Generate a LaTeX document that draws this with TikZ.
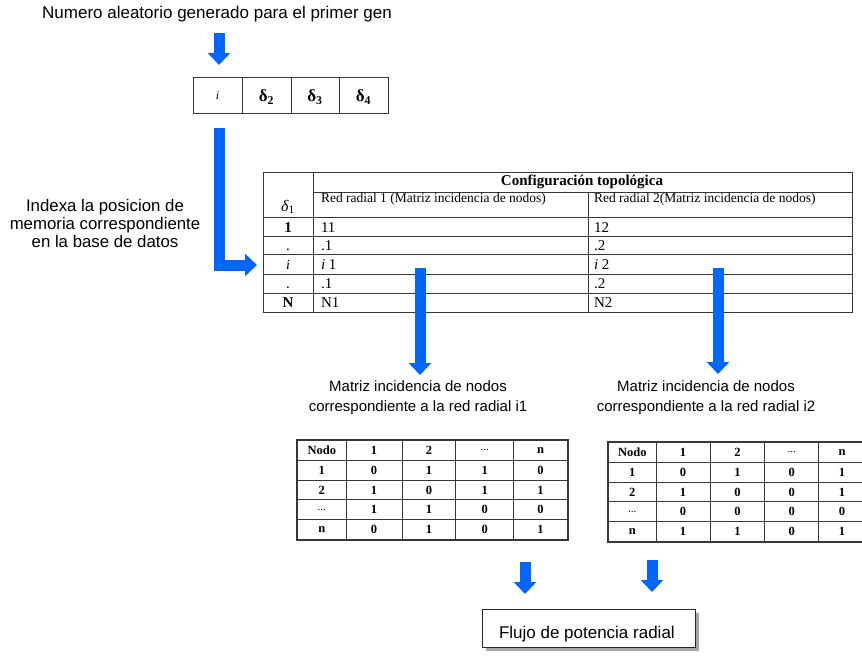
\documentclass[tikz,border=0pt]{standalone}
\usepackage{fontspec}
\setmainfont{Liberation Serif}
\newfontfamily\sansf{Liberation Sans}
\usetikzlibrary{arrows.meta,matrix}
\definecolor{arrowblue}{RGB}{0,102,255}
\definecolor{rulegray}{RGB}{55,55,55}

\begin{document}
\begin{tikzpicture}[x=1pt,y=-1pt,
  every node/.style={inner sep=0pt, outer sep=0pt},
  caption/.style={font=\sansf\fontsize{17}{20}\selectfont, align=center},
  sublabel/.style={font=\sansf\fontsize{15}{20}\selectfont, align=center},
  sidelabel/.style={font=\sansf\fontsize{16.8}{18}\selectfont, align=center},
  blockarrow/.style={draw=arrowblue, line width=11pt, line join=miter,
    -{Triangle[width=22pt,length=12pt]}},
  gridline/.style={draw=rulegray, line width=0.8pt},
  headcell/.style={font=\fontsize{13.5}{15}\selectfont, anchor=west},
  datacell/.style={font=\fontsize{15}{16}\selectfont, anchor=base west},
  keycell/.style={font=\fontsize{15}{16}\selectfont, anchor=base},
  genecell/.style={font=\bfseries\fontsize{17}{18}\selectfont},
  smalltab/.style={matrix of nodes, inner sep=0pt, column sep=-0.8pt, row sep=-0.8pt,
    nodes={draw=rulegray, line width=0.8pt, font=\bfseries\fontsize{12.5}{12.5}\selectfont,
      minimum height=19.8pt, anchor=center}},
]
\useasboundingbox (0,0) rectangle (862,659);

% ---- chromosome and its random index ----
\node[caption] (title) at (217,14) {Numero aleatorio generado para el primer gen};

\draw[gridline] (193,77) rectangle (388,113);
\foreach \x in {242,291,339} \draw[gridline] (\x,77) -- (\x,113);
\node[font=\itshape\fontsize{12}{12}\selectfont, anchor=base] (g1) at (217.5,99) {i};
\node[genecell] (g2) at (266.5,97) {δ\textsubscript{2}};
\node[genecell] (g3) at (315,97) {δ\textsubscript{3}};
\node[genecell] (g4) at (363.5,97) {δ\textsubscript{4}};

\coordinate (a0s) at (219,33);
\coordinate (a0e) at (219,65);
\draw[blockarrow] (a0s) -- (a0e);

% ---- lookup into the topology database ----
\node[sidelabel] (index) at (105,223) {Indexa la posicion de\\memoria correspondiente\\en la base de datos};

\coordinate (ls) at (219,128);
\coordinate (le) at (257,265);
\draw[blockarrow] (ls) |- (le);

\draw[gridline] (263,172) rectangle (852,312);
\draw[gridline] (313,172) -- (313,312);
\draw[gridline] (588,192) -- (588,312);
\draw[gridline] (313,192) -- (852,192);
\foreach \y in {217,236,254,274,293} \draw[gridline] (263,\y) -- (852,\y);

\node[font=\bfseries\fontsize{15}{16}\selectfont] (topo) at (582,182) {Configuración topológica};
\node[font=\fontsize{16}{16}\selectfont] (k0) at (288,207) {{\itshape δ}\textsubscript{1}};
\node[headcell] (h1) at (321,199) {Red radial 1 (Matriz incidencia de nodos)};
\node[headcell] (h2) at (594,199) {Red radial 2(Matriz incidencia de nodos)};

\node[keycell,font=\bfseries\fontsize{15}{16}\selectfont] (k1) at (288,232) {1};
\node[keycell] (k2) at (288,250) {.};
\node[keycell,font=\itshape\fontsize{14}{16}\selectfont] (k3) at (288,269) {i};
\node[keycell] (k4) at (288,288) {.};
\node[keycell,font=\bfseries\fontsize{15}{16}\selectfont] (k5) at (288,307.5) {N};

\node[datacell] (c11) at (321,232) {11};
\node[datacell] (c12) at (321,250) {.1};
\node[datacell] (c13) at (321,269) {\textit{i} 1};
\node[datacell] (c14) at (321,288) {.1};
\node[datacell] (c15) at (321,307.5) {N1};
\node[datacell] (c21) at (594,232) {12};
\node[datacell] (c22) at (594,250) {.2};
\node[datacell] (c23) at (594,269) {\textit{i} 2};
\node[datacell] (c24) at (594,288) {.2};
\node[datacell] (c25) at (594,307.5) {N2};

% ---- node incidence matrices of the two radial networks ----
\coordinate (a1s) at (420,268);
\coordinate (a1e) at (420,375);
\coordinate (a2s) at (718,268);
\coordinate (a2e) at (718,374);
\draw[blockarrow] (a1s) -- (a1e);
\draw[blockarrow] (a2s) -- (a2e);

\node[sublabel] (lab1) at (418,398) {Matriz incidencia de nodos\\correspondiente a la red radial i1};
\node[sublabel] (lab2) at (706,398) {Matriz incidencia de nodos\\correspondiente a la red radial i2};

\matrix[smalltab, anchor=north west,
  column 1/.style={nodes={minimum width=48.8pt}},
  column 2/.style={nodes={minimum width=55.8pt}},
  column 3/.style={nodes={minimum width=53.8pt}},
  column 4/.style={nodes={minimum width=57.8pt}},
  column 5/.style={nodes={minimum width=53.8pt}}] (ma) at (297,440) {
  Nodo & 1 & 2 & |[font=\fontsize{11}{11}\selectfont]| ... & n \\
  1 & 0 & 1 & 1 & 0 \\
  2 & 1 & 0 & 1 & 1 \\
  |[font=\fontsize{11}{11}\selectfont]| ... & 1 & 1 & 0 & 0 \\
  n & 0 & 1 & 0 & 1 \\
};
\draw[rulegray, line width=1.5pt] (ma.north west) rectangle (ma.south east);

\matrix[smalltab, anchor=north west,
  column 1/.style={nodes={minimum width=47.8pt}},
  column 2/.style={nodes={minimum width=53.8pt}},
  column 3/.style={nodes={minimum width=54.8pt}},
  column 4/.style={nodes={minimum width=53.8pt}},
  column 5/.style={nodes={minimum width=46.8pt}}] (mb) at (608,442) {
  Nodo & 1 & 2 & |[font=\fontsize{11}{11}\selectfont]| ... & n \\
  1 & 0 & 1 & 0 & 1 \\
  2 & 1 & 0 & 0 & 1 \\
  |[font=\fontsize{11}{11}\selectfont]| ... & 0 & 0 & 0 & 0 \\
  n & 1 & 1 & 0 & 1 \\
};
\draw[rulegray, line width=1.5pt] (mb.north west) rectangle (mb.south east);

% ---- radial power flow ----
\coordinate (a3s) at (525,562);
\coordinate (a3e) at (525,594);
\coordinate (a4s) at (652,560);
\coordinate (a4e) at (652,592);
\draw[blockarrow] (a3s) -- (a3e);
\draw[blockarrow] (a4s) -- (a4e);

\fill[black!35] (486,613) rectangle (699,651);
\draw[fill=white, draw=black!85, line width=0.9pt] (482,609) rectangle (695,647);
\node[caption, anchor=base west] (flow) at (499,638) {Flujo de potencia radial};
\end{tikzpicture}
\end{document}
